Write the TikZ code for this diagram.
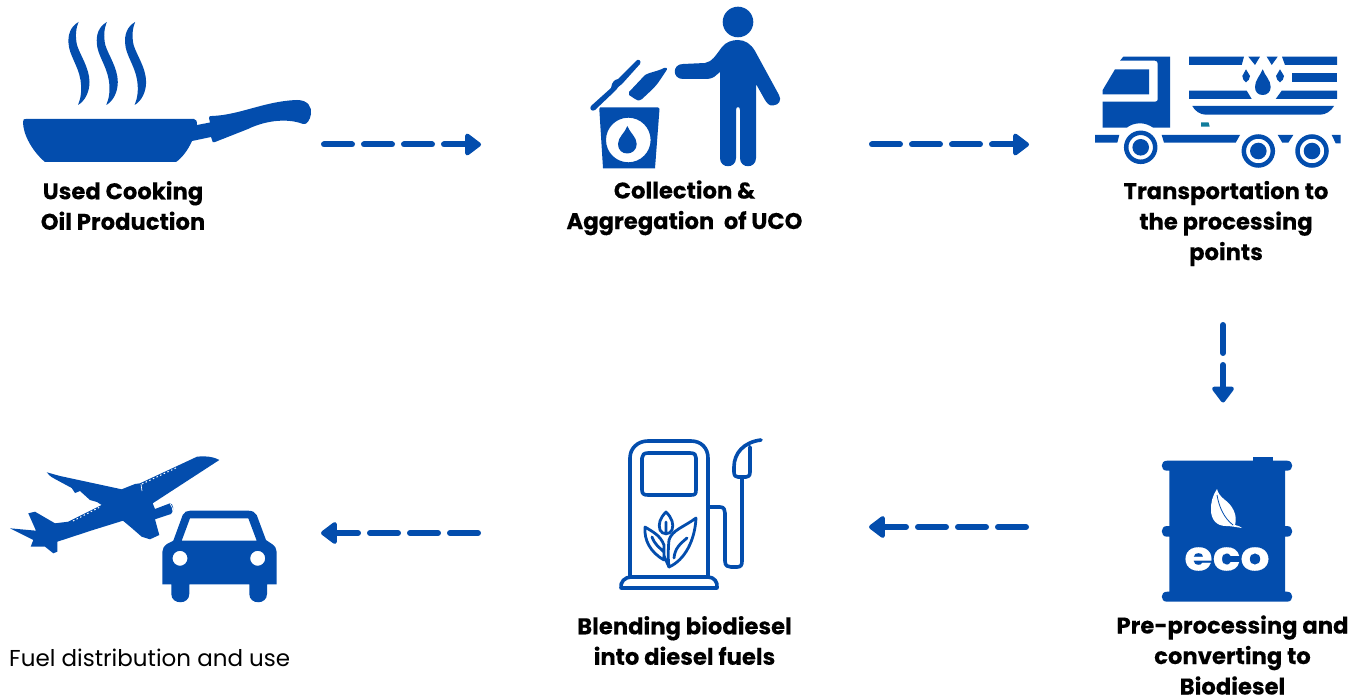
\documentclass[tikz,border=0pt]{standalone}
\usepackage{fontspec}
\setmainfont{Poppins}[BoldFeatures={FakeBold=0.15}]
\usetikzlibrary{arrows.meta,calc}
\definecolor{blu}{HTML}{034DAD}
\definecolor{tealmark}{HTML}{117C9B}
\tikzset{
 x=1pt,y=-1pt,
 lab/.style={align=center,font=\fontsize{22.7}{30.5}\selectfont\bfseries,text=black,inner sep=0pt},
 plainlab/.style={font=\fontsize{23}{30}\selectfont,text=black,inner sep=0pt,anchor=west},
 flow/.style={blu,line width=6pt,line cap=round,dash pattern=on 28pt off 12pt,-{Triangle[length=17.5pt,width=25pt,round]}},
 ol/.style={draw=blu,line width=3.6pt,line join=round,line cap=round,fill=none},
 thinol/.style={ol,line width=2.8pt},
 winrow/.style={white,line width=1pt,dash pattern=on 1.5pt off 2.5pt},
}
\begin{document}
\begin{tikzpicture}
\useasboundingbox (0,0) rectangle (1363,698);
% pan
\fill[blu] (23,122) .. controls (23,119) and (24,119) .. (26,119) -- (194,119) .. controls (197,119) and (197,122) .. (197,125) -- (210,122.5) -- (209,118) .. controls (209,116) and (210,116) .. (212,116) .. controls (240,115) and (265,101) .. (297,100) .. controls (308,100) and (312,107) .. (311,114) .. controls (310,120) and (307,125) .. (303,124) .. controls (285,117) and (262,122) .. (248,129) -- (215,142) .. controls (213,143) and (212,142) .. (212,140) -- (211,137) -- (192,141) .. controls (188,150) and (182,158) .. (176,162) -- (45,162) .. controls (33,152) and (23,135) .. (23,122) -- cycle;
\foreach \dx in {0,28.3,56.6}{
\fill[blu,shift={(\dx,0)}] (78.5,22) .. controls (70,27) and (68,35) .. (68.5,43) .. controls (69,55) and (78,65) .. (80.5,80) .. controls (82,90) and (81,98) .. (78,105) .. controls (85,101) and (89.5,92) .. (89.5,82) .. controls (89.5,68) and (80,55) .. (77,45) .. controls (75,36) and (76,28) .. (78.5,22) -- cycle;}
% person
\fill[blu] (738,22) circle (15.3);
\fill[blu] (738,40) .. controls (745,40) and (751,44) .. (755,51) -- (779,95) .. controls (782,100) and (779,105) .. (773,105.5) .. controls (769,106) and (767,103) .. (765,100) -- (756,84) -- (756,158) .. controls (756,169) and (740,169) .. (740,158) -- (740,110) .. controls (740,106) and (736,106) .. (736,110) -- (736,158) .. controls (736,169) and (720,169) .. (720,158) -- (720,72) -- (714,77) .. controls (712,78) and (710,79) .. (707,79) -- (683,79) .. controls (672,79) and (672,64) .. (683,64) -- (705,63) .. controls (712,62) and (716,55) .. (722,47) .. controls (726,42) and (732,40) .. (738,40) -- cycle;
% bin
\fill[blu,even odd rule] (600,107.5) -- (658,107.5) .. controls (659,107.5) and (659.5,108) .. (659.5,109) -- (655,168.3) -- (603,168.3) -- (599.3,109) .. controls (599.3,108) and (599.5,107.5) .. (600,107.5) -- cycle
 (628.3,140) circle (22.3)
 (627.3,126) .. controls (630,133) and (636.7,137) .. (636.7,144) .. controls (636.7,150) and (632,153.5) .. (627.3,153.5) .. controls (622,153.5) and (618,150) .. (618,144) .. controls (618,137) and (625,133) .. (627.3,126) -- cycle;
\fill[blu] (591,106) -- (611,88) .. controls (612,82) and (614,80) .. (618,79) -- (636,61) .. controls (638,58) and (642,61) .. (640,64) -- (622,84) .. controls (619,85) and (618,88) .. (615,91) -- (595,110) .. controls (592,112) and (589,109) .. (591,106) -- cycle;
\fill[blu] (629,92) -- (645,75) .. controls (650,72) and (656,72) .. (664,68) .. controls (667,67) and (668,69) .. (666,71) -- (660,80) .. controls (656,86) and (655,87) .. (642,99) .. controls (639,101) and (637,101) .. (635,99) -- (629,95) -- cycle;
% truck cab
\fill[blu] (1123.3,56.7) -- (1170,56.7) -- (1170,127.7) -- (1153.3,127.7) .. controls (1149,125) and (1145,123.3) .. (1140,123.3) .. controls (1135,123.3) and (1130,125) .. (1126.7,127.7) -- (1102.7,127.7) -- (1102.7,101.7) -- (1155,101.7) .. controls (1157,101.7) and (1157.7,100.5) .. (1157.7,99.3) -- (1157.7,64) .. controls (1157.7,62) and (1157,60.7) .. (1155,60.7) -- (1120,60.7) -- cycle;
\fill[blu] (1115,69.3) -- (1149,69.3) -- (1149,94.3) -- (1102.7,94.3) -- (1102.7,90) -- cycle;
% chassis
\fill[blu] (1095,135) -- (1119.3,135) -- (1117.3,142.7) -- (1095,142.7) -- cycle;
\fill[blu] (1161.7,135) -- (1240,135) -- (1235.7,142.7) -- (1164,142.7) -- cycle;
\fill[blu] (1277.7,135) -- (1293.3,135) -- (1288.3,142.7) -- (1282.3,142.7) -- cycle;
\fill[blu] (1331.7,135) -- (1340.7,135) -- (1340.7,143.3) -- (1335.7,143.3) -- cycle;
% tank
\fill[blu] (1189,56.7) -- (1244,56.7) -- (1241.7,65) -- (1189,65) -- cycle;
\fill[blu] (1248.3,56.7) -- (1260,56.7) -- (1255,65) -- cycle;
\fill[blu] (1266.7,56.7) -- (1277.7,56.7) -- (1271.7,65) -- cycle;
\fill[blu] (1282,56.7) -- (1337,56.7) -- (1337,65) -- (1285,65) -- cycle;
\fill[blu] (1291.7,73.3) rectangle (1337,81.7);
\fill[blu] (1189,90.7) -- (1246.7,90.7) -- (1251.7,99) -- (1189,99) -- cycle;
\fill[blu] (1281.7,90.7) -- (1337,90.7) -- (1337,99) -- (1275.7,99) -- cycle;
\fill[blu] (1192.3,106) -- (1334,106) .. controls (1331,111) and (1326,114.7) .. (1320,114.7) -- (1206,114.7) .. controls (1200,114.7) and (1195,111) .. (1192.3,106) -- cycle;
\fill[blu] (1262.7,69.3) .. controls (1265,76) and (1270.7,80) .. (1270.7,87) .. controls (1270.7,92) and (1267,95) .. (1262.7,95) .. controls (1258,95) and (1255,92) .. (1255,87) .. controls (1255,80) and (1260,76) .. (1262.7,69.3) -- cycle;
\fill[blu] (1246,69.3) -- (1250,76) .. controls (1250,79) and (1248,81) .. (1246,82.3) .. controls (1244,81) and (1242.3,79) .. (1242.3,76) -- cycle;
\fill[blu] (1280,69.3) -- (1284,76) .. controls (1284,79) and (1282,81) .. (1280,82.3) .. controls (1278,81) and (1276,79) .. (1276,76) -- cycle;
\fill[tealmark] (1201,122.3) -- (1208.5,122.3) -- (1209.7,126.7) -- (1201,126.7) -- cycle;
\foreach \cx/\cy in {1140.7/147.3,1258.3/151,1312/151}{
 \draw[blu,line width=4.5pt] (\cx,\cy) circle (14.5);
 \fill[blu] (\cx,\cy) circle (8.3);
}
% barrel
\fill[blu] (1252.7,456.7) rectangle (1272.7,462);
\fill[blu] (1167,460.7) -- (1287,460.7) .. controls (1294,460.7) and (1294,470.7) .. (1287,470.7) -- (1285,470.7) -- (1285,526) -- (1287,526) .. controls (1294,526) and (1294,536.7) .. (1287,536.7) -- (1285,536.7) -- (1285,591.7) -- (1287,591.7) .. controls (1294,591.7) and (1294,601.7) .. (1287,601.7) -- (1167,601.7) .. controls (1160,601.7) and (1160,591.7) .. (1167,591.7) -- (1169.3,591.7) -- (1169.3,536.7) -- (1167,536.7) .. controls (1160,536.7) and (1160,526) .. (1167,526) -- (1169.3,526) -- (1169.3,470.7) -- (1167,470.7) .. controls (1160,470.7) and (1160,460.7) .. (1167,460.7) -- cycle;
\fill[white] (1217,489) .. controls (1212,497) and (1211,502) .. (1211,510) .. controls (1211,519) and (1216,526) .. (1226,526) .. controls (1231,526) and (1235,527) .. (1242,528) .. controls (1240,526) and (1238,526) .. (1235,525) .. controls (1238,515) and (1232,505) .. (1225,500) .. controls (1220,496) and (1218,493) .. (1217,489) -- cycle;
\draw[blu,line width=.8pt] (1217,495) .. controls (1219,507) and (1224,518) .. (1233,525);
\node[font=\fontsize{41}{41}\selectfont\bfseries,text=white,inner sep=0pt] (ecotxt) at (1227,559) {\scalebox{1.12}[1]{eco}};
% pump
\draw[ol] (630,577) -- (630,458) .. controls (630,448) and (638,441) .. (648,441) -- (691,441) .. controls (701,441) and (708,448) .. (708,458) -- (708,577);
\draw[ol] (648,453) -- (690,453) .. controls (695,453) and (696,455) .. (696,458) -- (696,490) .. controls (696,494) and (695,495) .. (691,495) -- (648,495) .. controls (644,495) and (642,494) .. (642,490) -- (642,458) .. controls (642,455) and (644,453) .. (648,453) -- cycle;
\draw[ol] (621,588) .. controls (620,582) and (625,577) .. (631,577) -- (708,577) .. controls (714,577) and (718,582) .. (717,588) -- cycle;
\draw[ol] (708,507) -- (720,507) .. controls (724,507) and (725,510) .. (725,513) -- (725,561) .. controls (725,566) and (728,567) .. (731,567) -- (737,567) .. controls (741,567) and (742,565) .. (742,561) -- (742,477);
\draw[ol] (761,440) .. controls (744,442) and (734,453) .. (734,467) -- (734,472) .. controls (734,476) and (736,477) .. (738,477) -- (746,477) .. controls (748,477) and (750,476) .. (750,472) -- (750,447);
\draw[thinol] (666,512) .. controls (660,518) and (658,524) .. (660,530) .. controls (662,535) and (670,535) .. (672,530) .. controls (674,524) and (672,518) .. (666,512) -- cycle (666,522)--(666,534);
\draw[thinol] (645,527) .. controls (644,540) and (650,552) .. (664,560) -- (664,545) .. controls (660,535) and (653,532) .. (645,527) -- cycle (652,537) .. controls (655,545) and (659,547) .. (664,552);
\draw[thinol] (696,518) .. controls (684,527) and (672,530) .. (669,540) .. controls (668,550) and (668,560) .. (669,567) .. controls (685,560) and (695,540) .. (696,518) -- cycle (674,558) .. controls (675,548) and (680,544) .. (687,538);
\draw[thinol] (664,556) -- (669,567);
% plane
\fill[blu] (219.3,460) .. controls (212,456) and (205,456) .. (197,456.7) -- (140,483.3) -- (135,484) -- (121.7,489.3) -- (60,476) -- (46.7,472.3) .. controls (50,476) and (52,478) .. (55,479) -- (71.7,488) -- (75,493) -- (80,491) -- (90,500) -- (97,502) -- (101.7,505) -- (68.3,521.7) -- (55,523.3) -- (35,511.7) -- (28.3,513.3) -- (36,530.7) -- (10,528.3) -- (33.3,540) -- (30.7,546.7) -- (45,546.7) -- (53.3,553.3) -- (57.3,551.7) -- (57.3,541.7) -- (93,530) -- (123,520.7) -- (131.7,528) -- (141.7,536.7) -- (150,539.3) -- (159.3,535) -- (155,519.3) -- (171,514) .. controls (175,511) and (173,503) .. (170,503.3) -- (155,509) -- (152.7,503.3) -- cycle;
\draw[winrow] (142,484) -- (178,467);
\draw[winrow] (73,521) -- (100,507);
\draw[white,line width=.7pt] (141,484) -- (142,491);
\draw[white,line width=.7pt] (170,503.5) .. controls (172,506) and (173,509) .. (173,512);
% car
\fill[blu,even odd rule] (190,510.7) -- (248.3,510.7) .. controls (252,510.7) and (255,512) .. (256.7,515) -- (266,540) -- (272,544) .. controls (275,546) and (276.7,549) .. (276.7,552) -- (276.7,584.3) -- (267,584.3) -- (267,594) .. controls (267,605) and (249.3,605) .. (249.3,594) -- (249.3,584.3) -- (189.3,584.3) -- (189.3,594) .. controls (189.3,605) and (171.3,605) .. (171.3,594) -- (171.3,584.3) -- (162.3,584.3) -- (162.3,552) .. controls (162.3,549) and (164,546) .. (167,544) -- (173.3,540.7) -- (182.7,515) .. controls (184,512) and (187,510.7) .. (190,510.7) -- cycle
 (190,518.3) -- (248.3,518.3) -- (256.7,540.7) -- (181.7,540.7) -- cycle
 (180,558.3) circle (7.5) (257.7,558.3) circle (7.5);
% anchors for connectors
\coordinate (panout) at (324,144.5);
\coordinate (binin) at (481,144.5);
\coordinate (binout) at (872,144.5);
\coordinate (truckin) at (1029,144.5);
\coordinate (truckout) at (1223,325);
\coordinate (barrelin) at (1223,402.5);
\coordinate (barrelout) at (1026,527);
\coordinate (pumpin) at (869,527);
\coordinate (pumpout) at (478,533);
\coordinate (planein) at (321,533);
\draw[flow] (panout) -- (binin);
\draw[flow] (binout) -- (truckin);
\draw[flow] (truckout) -- (barrelin);
\draw[flow] (barrelout) -- (pumpin);
\draw[flow] (pumpout) -- (planein);
% labels
\node[lab] (l1) at (123,205.5) {Used Cooking\\Oil Production};
\node[lab] (l2) at (684.5,207.8) {Collection \&\\Aggregation\ \ of UCO};
\node[lab] (l3) at (1226,223.5) {Transportation to\\the processing\\points};
\node[lab] (l4) at (1232.5,655) {Pre-processing and\\converting to\\Biodiesel};
\node[lab] (l5) at (684.5,640.5) {Blending biodiesel\\into diesel fuels};
\node[plainlab] (l6) at (9,658) {Fuel distribution and use};
\end{tikzpicture}
\end{document}
